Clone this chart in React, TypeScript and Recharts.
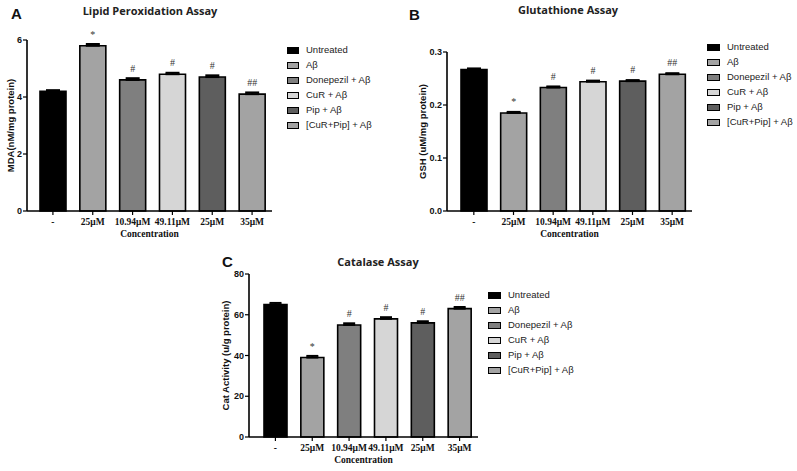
import React from 'react';
import { BarChart, Bar, Cell, XAxis, YAxis, ErrorBar, LabelList, Label } from 'recharts';

const groups = ['Untreated', 'Aβ', 'Donepezil + Aβ', 'CuR + Aβ', 'Pip + Aβ', '[CuR+Pip] + Aβ'];
const doses = ['-', '25μM', '10.94μM', '49.11μM', '25μM', '35μM'];
const fills = ['#000000', '#a3a3a3', '#7f7f7f', '#d6d6d6', '#5e5e5e', '#a3a3a3'];
const sigMarks = ['', '*', '#', '#', '#', '##'];

const mdaValues = [4.2, 5.8, 4.6, 4.8, 4.7, 4.1];
const mdaErrors = [0.04, 0.06, 0.06, 0.05, 0.06, 0.06];
const gshValues = [0.267, 0.185, 0.233, 0.244, 0.245, 0.258];
const gshErrors = [0.002, 0.002, 0.002, 0.002, 0.002, 0.002];
const catValues = [65, 39, 55, 58, 56, 63];
const catErrors = [0.8, 0.8, 0.8, 0.8, 0.8, 0.8];

const sans = 'Arial, "Liberation Sans", sans-serif';
const serif = '"Times New Roman", "Liberation Serif", serif';

const buildRows = (values: number[], errors: number[]) =>
  values.map((v, i) => ({ i, value: v, err: [0, errors[i]], sig: sigMarks[i] }));

const YLabel = ({ viewBox, text, gap }: any) => {
  const cx = viewBox.x + viewBox.width - gap;
  const cy = viewBox.y + viewBox.height / 2;
  return (
    <text
      x={cx}
      y={cy}
      transform={`rotate(-90 ${cx} ${cy})`}
      textAnchor="middle"
      dominantBaseline="central"
      style={{ fontFamily: sans, fontSize: 9.5, fontWeight: 600, fill: '#111' }}
    >
      {text}
    </text>
  );
};

const XLabel = ({ viewBox }: any) => (
  <text
    x={viewBox.x + viewBox.width / 2}
    y={viewBox.y + 23}
    textAnchor="middle"
    dominantBaseline="central"
    style={{ fontFamily: serif, fontSize: 9.5, fontWeight: 700, fill: '#111' }}
  >
    Concentration
  </text>
);

interface PanelProps {
  left: number;
  top: number;
  width: number;
  height: number;
  margin: { top: number; right: number; bottom: number; left: number };
  yWidth: number;
  labelGap: number;
  padLeft: number;
  barSize: number;
  domain: [number, number];
  ticks: number[];
  fmt: (v: number) => string;
  rows: any[];
  yTitle: string;
}

const Panel: React.FC<PanelProps> = (p) => (
  <div style={{ position: 'absolute', left: p.left, top: p.top }}>
    <BarChart width={p.width} height={p.height} data={p.rows} margin={p.margin}>
      <XAxis
        dataKey="i"
        type="category"
        height={34}
        padding={{ left: p.padLeft, right: 0 }}
        tickFormatter={(v: number) => doses[v]}
        tick={{ fontFamily: serif, fontSize: 9.5, fontWeight: 700, fill: '#111' }}
        axisLine={{ stroke: '#000', strokeWidth: 1.6 }}
        tickLine={{ stroke: '#000', strokeWidth: 1.2 }}
        tickSize={4}
        tickMargin={3}
        interval={0}
      >
        <Label content={<XLabel />} />
      </XAxis>
      <YAxis
        width={p.yWidth}
        domain={p.domain}
        ticks={p.ticks}
        tickFormatter={p.fmt}
        tick={{ fontFamily: sans, fontSize: 9, fontWeight: 700, fill: '#111' }}
        axisLine={{ stroke: '#000', strokeWidth: 1.6 }}
        tickLine={{ stroke: '#000', strokeWidth: 1.2 }}
        tickSize={4}
        tickMargin={1}
      >
        <Label content={<YLabel text={p.yTitle} gap={p.labelGap} />} />
      </YAxis>
      <Bar dataKey="value" barSize={p.barSize} stroke="#000" strokeWidth={1.6} isAnimationActive={false}>
        {p.rows.map((r, i) => (
          <Cell key={`c-${i}`} fill={fills[i]} stroke="#000" strokeWidth={1.6} />
        ))}
        <ErrorBar dataKey="err" width={Math.round(p.barSize / 4)} stroke="#000" strokeWidth={2} direction="y" />
        <LabelList dataKey="sig" position="top" offset={8} fill="#333" fontSize={10} fontFamily={serif} />
      </Bar>
    </BarChart>
  </div>
);

const Legend: React.FC<{ x: number; y: number; textX: number; sw: number }> = ({ x, y, textX, sw }) => (
  <div style={{ position: 'absolute', left: x, top: y }}>
    {groups.map((g, i) => (
      <div key={g} style={{ position: 'absolute', top: i * 15, left: 0, height: 10, whiteSpace: 'nowrap' }}>
        <div
          style={{
            position: 'absolute',
            left: 0,
            top: 1,
            width: sw,
            height: 5,
            background: fills[i],
            border: '1.5px solid #000',
          }}
        />
        <div
          style={{
            position: 'absolute',
            left: textX,
            top: -3,
            fontFamily: sans,
            fontSize: 9.5,
            color: '#222',
            lineHeight: '14px',
          }}
        >
          {g}
        </div>
      </div>
    ))}
  </div>
);

const Title: React.FC<{ x: number; y: number; text: string }> = ({ x, y, text }) => (
  <div
    style={{
      position: 'absolute',
      left: x - 100,
      top: y - 8,
      width: 200,
      textAlign: 'center',
      fontFamily: '"Open Sans", sans-serif',
      fontWeight: 700,
      fontSize: 11,
      lineHeight: '16px',
      color: '#222',
    }}
  >
    {text}
  </div>
);

const Letter: React.FC<{ x: number; y: number; text: string }> = ({ x, y, text }) => (
  <div
    style={{
      position: 'absolute',
      left: x,
      top: y - 9,
      fontFamily: sans,
      fontWeight: 700,
      fontSize: 15,
      lineHeight: '18px',
      color: '#111',
    }}
  >
    {text}
  </div>
);

export default function App() {
  return (
    <div style={{ position: 'absolute', left: 0, top: 0, width: 797, height: 471, background: '#fff', overflow: 'hidden' }}>
      <Letter x={11} y={14} text="A" />
      <Title x={150} y={11} text="Lipid Peroxidation Assay" />
      <Panel
        left={0}
        top={0}
        width={290}
        height={245}
        margin={{ top: 40, right: 18, bottom: 0, left: 0 }}
        yWidth={27}
        labelGap={17}
        padLeft={6}
        barSize={26}
        domain={[0, 6]}
        ticks={[0, 2, 4, 6]}
        fmt={(v) => String(v)}
        rows={buildRows(mdaValues, mdaErrors)}
        yTitle="MDA(nM/mg protein)"
      />
      <Legend x={287} y={46} textX={19} sw={10} />

      <Letter x={409} y={15} text="B" />
      <Title x={568} y={10} text="Glutathione Assay" />
      <Panel
        left={400}
        top={0}
        width={300}
        height={245}
        margin={{ top: 52, right: 8, bottom: 0, left: 0 }}
        yWidth={47}
        labelGap={25}
        padLeft={7}
        barSize={26}
        domain={[0, 0.3]}
        ticks={[0, 0.1, 0.2, 0.3]}
        fmt={(v) => v.toFixed(1)}
        rows={buildRows(gshValues, gshErrors)}
        yTitle="GSH (uM/mg protein)"
      />
      <Legend x={707} y={43} textX={20} sw={11} />

      <Letter x={222} y={262} text="C" />
      <Title x={378} y={262} text="Catalase Assay" />
      <Panel
        left={200}
        top={230}
        width={290}
        height={241}
        margin={{ top: 44, right: 12, bottom: 0, left: 0 }}
        yWidth={49}
        labelGap={24}
        padLeft={8}
        barSize={23}
        domain={[0, 80]}
        ticks={[0, 20, 40, 60, 80]}
        fmt={(v) => String(v)}
        rows={buildRows(catValues, catErrors)}
        yTitle="Cat Activity (u/g protein)"
      />
      <Legend x={488} y={291} textX={20} sw={11} />
    </div>
  );
}
